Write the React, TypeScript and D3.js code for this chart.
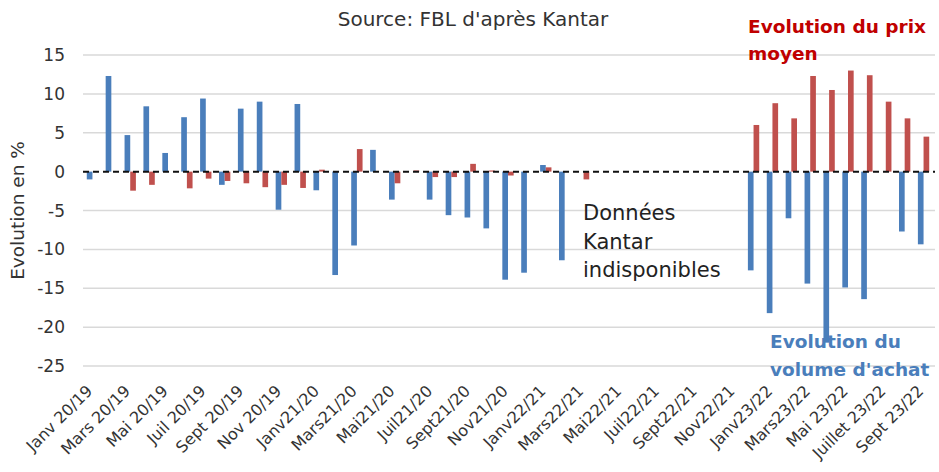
import React from "react";
import * as d3 from "d3";

const categories = [
  "Janv 20/19", "Févr 20/19", "Mars 20/19", "Avr 20/19", "Mai 20/19", "Juin 20/19",
  "Juil 20/19", "Août 20/19", "Sept 20/19", "Oct 20/19", "Nov 20/19", "Déc 20/19",
  "Janv21/20", "Févr21/20", "Mars21/20", "Avr21/20", "Mai21/20", "Juin21/20",
  "Juil21/20", "Août21/20", "Sept21/20", "Oct21/20", "Nov21/20", "Déc21/20",
  "Janv22/21", "Févr22/21", "Mars22/21", "Avr22/21", "Mai22/21", "Juin22/21",
  "Juil22/21", "Août22/21", "Sept22/21", "Oct22/21", "Nov22/21", "Déc22/21",
  "Janv23/22", "Févr23/22", "Mars23/22", "Avr23/22", "Mai 23/22", "Juin 23/22",
  "Juillet 23/22", "Août 23/22", "Sept 23/22",
];

const tickLabels = [
  "Janv 20/19", "Mars 20/19", "Mai 20/19", "Juil 20/19", "Sept 20/19", "Nov 20/19",
  "Janv21/20", "Mars21/20", "Mai21/20", "Juil21/20", "Sept21/20", "Nov21/20",
  "Janv22/21", "Mars22/21", "Mai22/21", "Juil22/21", "Sept22/21", "Nov22/21",
  "Janv23/22", "Mars23/22", "Mai 23/22", "Juillet 23/22", "Sept 23/22",
];

// Evolution du volume d'achat (%)
const volume: (number | null)[] = [
  -1.0, 12.3, 4.7, 8.4, 2.4, 7.0, 9.4, -1.7, 8.1, 9.0, -4.9, 8.7,
  -2.4, -13.3, -9.5, 2.8, -3.6, null, -3.6, -5.6, -5.9, -7.3, -13.9, -13.0,
  0.85, -11.4, null, null, null, null, null, null, null, null, null, -12.7,
  -18.2, -6.0, -14.4, -22.0, -14.9, -16.4, null, -7.7, -9.35,
];

// Evolution du prix moyen (%)
const price: (number | null)[] = [
  null, null, -2.45, -1.7, null, -2.15, -0.9, -1.2, -1.5, -2.0, -1.7, -2.1,
  0.25, null, 2.9, null, -1.5, 0.15, -0.7, -0.7, 1.0, 0.15, -0.5, null,
  0.55, null, -1.0, null, null, null, null, null, null, null, null, 6.0,
  8.8, 6.85, 12.3, 10.5, 13.0, 12.4, 9.0, 6.85, 4.5,
];

const yTicks = [15, 10, 5, 0, -5, -10, -15, -20, -25];

const W = 939;
const H = 472;
const FONT = "'DejaVu Sans', sans-serif";
const BLUE = "#4a7ebb";
const RED = "#c0504d";

export default function App() {
  const x = d3.scaleBand<string>().domain(categories).range([83, 933]).padding(0);
  const y = d3.scaleLinear().domain([-25, 15]).range([366, 55]);
  const bw = x.bandwidth() * 0.3;
  const cx = (c: string) => (x(c) as number) + x.bandwidth() / 2;

  return (
    <svg
      width={W}
      height={H}
      style={{ position: "absolute", left: 0, top: 0, background: "#fff" }}
      fontFamily={FONT}
    >
      <text x={473} y={26} fontSize={20} textAnchor="middle" fill="#333">
        Source: FBL d'après Kantar
      </text>

      {yTicks.map((t) => (
        <g key={t}>
          {t !== 0 && (
            <line x1={83} x2={935} y1={y(t)} y2={y(t)} stroke="#d9d9d9" strokeWidth={1.5} />
          )}
          <text x={65} y={y(t)} dy="0.36em" fontSize={17} textAnchor="end" fill="#333">
            {t}
          </text>
        </g>
      ))}

      <text
        transform={`translate(24,${(y(15) + y(-25)) / 2}) rotate(-90)`}
        textAnchor="middle"
        fontSize={18.5}
        fill="#333"
      >
        Evolution en %
      </text>

      {categories.map((c, i) =>
        volume[i] == null ? null : (
          <rect
            key={"v" + i}
            x={cx(c) - bw}
            width={bw}
            y={y(Math.max(0, volume[i] as number))}
            height={Math.abs(y(volume[i] as number) - y(0))}
            fill={BLUE}
          />
        )
      )}
      {categories.map((c, i) =>
        price[i] == null ? null : (
          <rect
            key={"p" + i}
            x={cx(c)}
            width={bw}
            y={y(Math.max(0, price[i] as number))}
            height={Math.abs(y(price[i] as number) - y(0))}
            fill={RED}
          />
        )
      )}

      <line
        x1={83}
        x2={935}
        y1={y(0)}
        y2={y(0)}
        stroke="#111"
        strokeWidth={2}
        strokeDasharray="6,4"
      />

      {tickLabels.map((l) => (
        <text
          key={l}
          transform={`translate(${cx(l) + 1},${392}) rotate(-45)`}
          textAnchor="end"
          fontSize={16}
          fill="#333"
        >
          {l}
        </text>
      ))}

      <g fontSize={21} fill="#222">
        <text x={583} y={220}>Données</text>
        <text x={583} y={249}>Kantar</text>
        <text x={583} y={277}>indisponibles</text>
      </g>

      <g fontSize={18.5} fontWeight="bold" fill="#c00000">
        <text x={748} y={33}>Evolution du prix</text>
        <text x={748} y={60}>moyen</text>
      </g>

      <g fontSize={18.5} fontWeight="bold" fill={BLUE}>
        <text x={770} y={348}>Evolution du</text>
        <text x={770} y={376}>volume d'achat</text>
      </g>
    </svg>
  );
}
